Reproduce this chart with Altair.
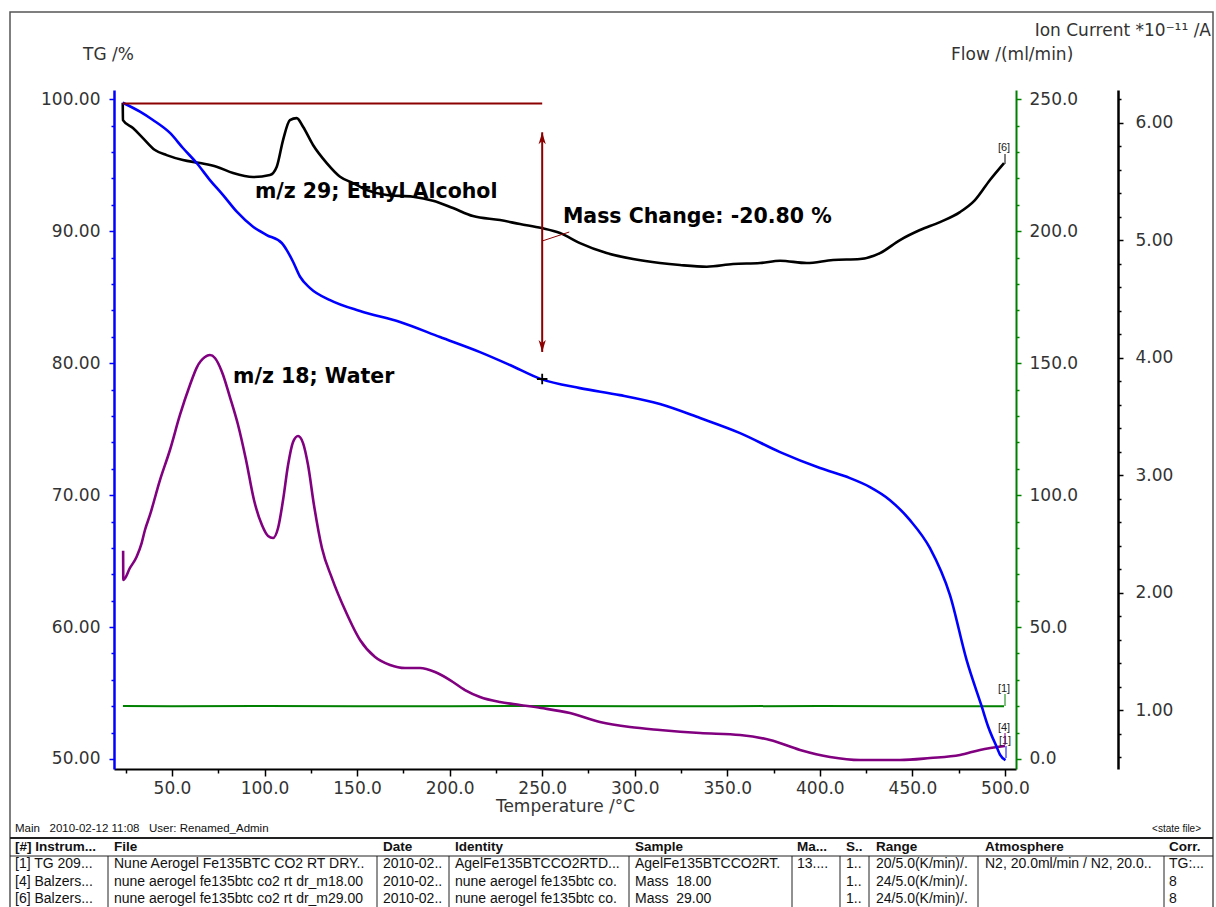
import altair as alt
import pandas as pd

FONT = "DejaVu Sans"
TXT = "#333333"
RED = "#8B0000"
NB = "\u00a0"

# ---------------- data ----------------
# TG (mass %) vs temperature
tg_temp = [23.4, 32.7, 39.7, 48.9, 55.9, 63.3, 70.5, 77.6, 85.0, 93.8, 101.2, 109.3, 112.0, 115.4, 119.2,
           124.6, 135.4, 151.6, 173.2, 194.8, 216.4, 232.6, 249.4, 270.4, 292.0, 313.6, 335.3, 356.9,
           378.5, 400.1, 416.3, 427.1, 437.9, 448.7, 459.5, 470.3, 479.3, 487.4, 491.0, 495.5, 497.3, 500.3]
tg_mass = [99.74, 99.06, 98.43, 97.45, 96.31, 95.17, 93.88, 92.74, 91.48, 90.34, 89.71, 89.11, 88.57, 87.69, 86.55,
           85.69, 84.78, 83.95, 83.12, 81.98, 80.84, 79.86, 78.79, 78.11, 77.58, 76.90, 75.84, 74.70,
           73.26, 72.05, 71.29, 70.61, 69.62, 68.10, 65.98, 62.42, 57.49, 54.00, 52.43, 50.92, 50.34, 49.91]

# Ion current m/z 29 (ethyl alcohol), *10^-11 A
m29_temp = [23.4, 23.5, 28.9, 34.3, 40.8, 47.1, 55.9, 65.1, 74.1, 83.0, 93.8, 102.9, 106.6, 110.0, 113.7,
            117.4, 120.8, 126.2, 133.6, 140.8, 147.8, 155.2, 166.0, 180.2, 191.0, 201.8, 212.6, 227.2,
            238.0, 249.7, 259.6, 270.4, 284.8, 299.1, 313.6, 324.4, 338.9, 353.1, 367.7, 378.5, 392.9,
            407.1, 421.7, 432.5, 443.3, 454.1, 464.9, 475.7, 483.8, 491.9, 499.5]
m29_ion = [6.168, 6.021, 5.953, 5.868, 5.766, 5.723, 5.681, 5.655, 5.624, 5.570, 5.536, 5.553, 5.624, 5.851,
           6.021, 6.038, 5.964, 5.809, 5.655, 5.539, 5.485, 5.426, 5.383, 5.369, 5.335, 5.272, 5.204, 5.170,
           5.136, 5.102, 5.060, 4.974, 4.889, 4.838, 4.804, 4.787, 4.773, 4.796, 4.804, 4.824, 4.804,
           4.830, 4.838, 4.889, 5.000, 5.085, 5.153, 5.238, 5.340, 5.511, 5.655]

# Ion current m/z 18 (water), *10^-11 A
m18_temp = [23.6, 23.7, 27.3, 30.9, 33.6, 35.4, 38.1, 43.5, 48.9, 54.3, 59.7, 63.5, 67.8, 70.5, 73.2, 77.0,
            81.3, 85.7, 90.0, 94.3, 98.6, 101.9, 104.6, 107.3, 110.0, 112.7, 115.4, 118.1, 120.8, 123.5,
            126.7, 131.0, 136.4, 143.5, 151.6, 159.7, 167.8, 175.9, 184.0, 192.1, 200.2, 208.3, 216.4,
            227.2, 238.0, 249.4, 265.0, 281.2, 297.4, 313.6, 335.3, 356.9, 373.1, 389.3, 405.5, 421.7,
            443.3, 459.5, 475.7, 486.5, 500.0]
m18_ion = [2.356, 2.106, 2.209, 2.305, 2.421, 2.532, 2.660, 2.957, 3.213, 3.511, 3.766, 3.919, 4.004, 4.021,
           3.996, 3.877, 3.664, 3.426, 3.128, 2.787, 2.574, 2.481, 2.464, 2.549, 2.787, 3.085, 3.281, 3.332,
           3.272, 3.085, 2.745, 2.379, 2.123, 1.851, 1.596, 1.451, 1.383, 1.357, 1.357, 1.323, 1.255,
           1.170, 1.111, 1.068, 1.043, 1.017, 0.974, 0.898, 0.855, 0.830, 0.804, 0.787, 0.745, 0.660,
           0.600, 0.574, 0.574, 0.591, 0.617, 0.660, 0.694]

# Purge gas flow, ml/min
flow_temp = [23.5, 50.0, 100.0, 150.0, 200.0, 250.0, 300.0, 350.0, 400.0, 450.0, 499.5]
flow_val = [20.1, 20.0, 20.1, 20.0, 20.0, 20.1, 20.0, 20.0, 20.1, 20.0, 20.0]

# Mass-change evaluation
step_start_temp = 23.4
step_temp = 250.0
step_level_start = 99.68
step_level_end = 78.8
arrow_top = 97.5
arrow_bottom = 80.85
mass_change_text = "Mass Change: -20.80 %"

annot_texts = ["m/z 29; Ethyl Alcohol", "m/z 18; Water", mass_change_text]
annot_temp = [94.8, 83.0, 261.2]
annot_tg = [92.97, 78.95, 91.08]

# Info table
info_left = f"Main{NB*3}2010-02-12 11:08{NB*3}User: Renamed_Admin"
info_right = "<state file>"
table_header = ["[#] Instrum...", "File", "Date", "Identity", "Sample", "Ma...", "S..", "Range",
                "Atmosphere", "Corr."]
table_rows = [
    ["[1] TG 209...", "Nune Aerogel Fe135BTC CO2 RT DRY..", "2010-02..", "AgelFe135BTCCO2RTD...",
     "AgelFe135BTCCO2RT.", "13....", "1..", "20/5.0(K/min)/.", "N2, 20.0ml/min / N2, 20.0..", "TG:..."],
    ["[4] Balzers...", "nune aerogel fe135btc co2 rt dr_m18.00", "2010-02..", "nune aerogel fe135btc co.",
     f"Mass{NB*2}18.00", "", "1..", "24/5.0(K/min)/.", "", "8"],
    ["[6] Balzers...", "nune aerogel fe135btc co2 rt dr_m29.00", "2010-02..", "nune aerogel fe135btc co.",
     f"Mass{NB*2}29.00", "", "1..", "24/5.0(K/min)/.", "", "8"],
]

# ---------------- layout (pixels) ----------------
L, TOP = 114, 90
W, H = 902, 679


def rx(a):
    return a - L


def ry(a):
    return a - TOP


col_x = [15, 114, 383, 455, 635, 797, 846, 876, 985, 1169]
sep_x = [108, 377, 449, 629, 792, 840, 869, 978, 1164]
header_y = 847
row_y = [864, 882, 899]

x_scale = alt.Scale(domain=[18.67, 505.97], nice=False, zero=False)
tg_scale = alt.Scale(domain=[49.242, 100.705], nice=False, zero=False)
flow_scale = alt.Scale(domain=[-3.79, 253.53], nice=False, zero=False)
ion_scale = alt.Scale(domain=[0.498, 6.277], nice=False, zero=False)

lab = dict(labelFont=FONT, labelFontSize=17, labelColor=TXT, labelOverlap=False, labelFlush=False, grid=False)

x_axis = alt.Axis(
    values=list(range(25, 501, 25)),
    labelExpr="datum.value % 50 === 0 ? format(datum.value, '.1f') : ''",
    tickSize={"condition": {"test": "datum.value % 50 === 0", "value": 7}, "value": 4},
    tickColor="black", tickWidth=1.5, domainColor="black", domainWidth=2,
    labelPadding=4, title="Temperature /°C", titleFont=FONT, titleFontSize=17,
    titleFontWeight="normal", titleColor=TXT, titlePadding=2, **lab)

tg_axis = alt.Axis(
    orient="left", values=list(range(50, 101, 2)),
    labelExpr="datum.value % 10 === 0 ? format(datum.value, '.2f') : ''",
    tickSize={"condition": {"test": "datum.value % 10 === 0", "value": 5}, "value": 3},
    tickColor="#0000FF", tickWidth=1.5, domainColor="#0000FF", domainWidth=2.5,
    labelPadding=9, title=None, **lab)

flow_axis = alt.Axis(
    orient="right", values=list(range(0, 251, 10)),
    labelExpr="datum.value % 50 === 0 ? format(datum.value, '.1f') : ''",
    tickSize={"condition": {"test": "datum.value % 50 === 0", "value": 5}, "value": 3},
    tickColor="#008000", tickWidth=1.5, domainColor="#008000", domainWidth=2,
    labelPadding=8, title=None, **lab)

ion_axis = alt.Axis(
    orient="right", offset=102, values=[round(0.6 + 0.2 * k, 1) for k in range(29)],
    labelExpr="abs(datum.value - round(datum.value)) < 0.01 ? format(datum.value, '.2f') : ''",
    tickSize={"condition": {"test": "abs(datum.value - round(datum.value)) < 0.01", "value": 5}, "value": 3},
    tickColor="black", tickWidth=1.5, domainColor="black", domainWidth=2.5,
    labelPadding=12, title=None, **lab)


def xq(field, axis=None):
    return alt.X(field, type="quantitative", scale=x_scale, axis=axis)


def yq(field, scale, axis=None):
    return alt.Y(field, type="quantitative", scale=scale, axis=axis)


def px(field):
    return alt.X(field, type="quantitative", scale=None, axis=None)


def py(field):
    return alt.Y(field, type="quantitative", scale=None, axis=None)


one = pd.DataFrame({"a": [0]})

# ---------------- layers ----------------
frame = alt.Chart(one).mark_rect(fill="white", fillOpacity=0, stroke="#555555", strokeWidth=1.5).encode(
    x=alt.value(rx(10)), x2=alt.value(rx(1213)), y=alt.value(ry(12)), y2=alt.value(ry(940)))

tg_df = pd.DataFrame({"T": tg_temp, "v": tg_mass, "i": list(range(len(tg_temp)))})
m29_df = pd.DataFrame({"T": m29_temp, "v": m29_ion, "i": list(range(len(m29_temp)))})
m18_df = pd.DataFrame({"T": m18_temp, "v": m18_ion, "i": list(range(len(m18_temp)))})
flow_df = pd.DataFrame({"T": flow_temp, "v": flow_val, "i": list(range(len(flow_temp)))})

green = alt.Chart(flow_df).mark_line(color="#008000", strokeWidth=2).encode(
    x=xq("T"), y=yq("v", flow_scale, flow_axis), order="i:Q")
purple = alt.Chart(m18_df).mark_line(color="#800080", strokeWidth=2.6, interpolate="monotone").encode(
    x=xq("T"), y=yq("v", ion_scale), order="i:Q")
black = alt.Chart(m29_df).mark_line(color="black", strokeWidth=2.6, interpolate="monotone").encode(
    x=xq("T"), y=yq("v", ion_scale, ion_axis), order="i:Q")
blue = alt.Chart(tg_df).mark_line(color="#0000FF", strokeWidth=2.6, interpolate="monotone").encode(
    x=xq("T", x_axis), y=yq("v", tg_scale, tg_axis), order="i:Q")

h_df = pd.DataFrame({"x1": [step_start_temp], "x2": [step_temp], "y": [step_level_start]})
red_h = alt.Chart(h_df).mark_rule(color=RED, strokeWidth=2).encode(
    x=xq("x1"), x2="x2:Q", y=yq("y", tg_scale))

v_df = pd.DataFrame({"x": [step_temp], "y1": [arrow_top], "y2": [arrow_bottom]})
red_v = alt.Chart(v_df).mark_rule(color=RED, strokeWidth=2).encode(
    x=xq("x"), y=yq("y1", tg_scale), y2="y2:Q")

up_df = pd.DataFrame({"x": [step_temp], "y": [arrow_top]})
head_up = alt.Chart(up_df).mark_point(shape="M0,0L-0.45,1.5L0,1.1L0.45,1.5Z", filled=True, size=256,
                                      color=RED, opacity=1).encode(x=xq("x"), y=yq("y", tg_scale))
dn_df = pd.DataFrame({"x": [step_temp], "y": [arrow_bottom]})
head_dn = alt.Chart(dn_df).mark_point(shape="M0,0L-0.45,-1.5L0,-1.1L0.45,-1.5Z", filled=True, size=256,
                                      color=RED, opacity=1).encode(x=xq("x"), y=yq("y", tg_scale))

lead_df = pd.DataFrame({"x1": [step_temp], "x2": [264.6], "y1": [89.26], "y2": [89.94]})
leader = alt.Chart(lead_df).mark_rule(color=RED, strokeWidth=1).encode(
    x=xq("x1"), x2="x2:Q", y=yq("y1", tg_scale), y2="y2:Q")

cross_df = pd.DataFrame({"x": [step_temp], "y": [step_level_end]})
cross = alt.Chart(cross_df).mark_point(shape="M-1,0L1,0M0,-1L0,1", filled=False, size=110,
                                       strokeWidth=1.8, color="black", opacity=1).encode(
    x=xq("x"), y=yq("y", tg_scale))

ann_df = pd.DataFrame({"x": annot_temp, "y": annot_tg, "t": annot_texts})
annots = alt.Chart(ann_df).mark_text(font=FONT, fontSize=20.5, fontWeight="bold", align="left",
                                     baseline="middle", color="black").encode(
    x=xq("x"), y=yq("y", tg_scale), text="t:N")

# axis titles (pixel placed)
titles_df = pd.DataFrame({"px": [rx(83), rx(951)], "py": [ry(55), ry(55)], "t": ["TG /%", "Flow /(ml/min)"]})
titles = alt.Chart(titles_df).mark_text(font=FONT, fontSize=17, align="left", baseline="middle",
                                        color=TXT).encode(x=px("px"), y=py("py"), text="t:N")
ion_title_df = pd.DataFrame({"px": [rx(1211)], "py": [ry(31)], "t": ["Ion Current *10⁻¹¹ /A"]})
ion_title = alt.Chart(ion_title_df).mark_text(font=FONT, fontSize=17, align="right", baseline="middle",
                                              color=TXT).encode(x=px("px"), y=py("py"), text="t:N")

# curve tags
tags_df = pd.DataFrame({"px": [rx(1004), rx(1004), rx(1004), rx(1005)],
                        "py": [ry(148), ry(689), ry(728), ry(741)],
                        "t": ["[6]", "[1]", "[4]", "[1]"]})
tags = alt.Chart(tags_df).mark_text(font="Liberation Sans", fontSize=11, align="center", baseline="middle",
                                    color="#222222").encode(x=px("px"), y=py("py"), text="t:N")
tagl_df = pd.DataFrame({"x1": [rx(1005), rx(1005), rx(1005), rx(1006)],
                        "y1": [ry(154), ry(694), ry(733), ry(746)],
                        "y2": [ry(164), ry(706), ry(745), ry(758)],
                        "c": ["k", "g", "p", "b"]})
tag_lines = alt.Chart(tagl_df).mark_rule(strokeWidth=1).encode(
    x=px("x1"), y=py("y1"), y2="y2:Q",
    color=alt.Color("c:N", scale=alt.Scale(domain=["k", "g", "p", "b"],
                                           range=["black", "#008000", "#800080", "#0000FF"]), legend=None))

# info line
info_df = pd.DataFrame({"px": [rx(15)], "py": [ry(829)], "t": [info_left]})
info = alt.Chart(info_df).mark_text(font="Liberation Sans", fontSize=11.5, align="left", baseline="middle",
                                    color="#111111").encode(x=px("px"), y=py("py"), text="t:N")
state_df = pd.DataFrame({"px": [rx(1201)], "py": [ry(829)], "t": [info_right]})
state = alt.Chart(state_df).mark_text(font="Liberation Sans", fontSize=10, align="right", baseline="middle",
                                      color="#111111").encode(x=px("px"), y=py("py"), text="t:N")

# table
head_df = pd.DataFrame({"px": [rx(c) for c in col_x], "py": [ry(header_y)] * len(col_x), "t": table_header})
head = alt.Chart(head_df).mark_text(font="Liberation Sans", fontSize=13.5, fontWeight="bold", align="left",
                                    baseline="middle", color="#111111").encode(x=px("px"), y=py("py"), text="t:N")
cells = []
for r, row in enumerate(table_rows):
    for c, val in enumerate(row):
        if val:
            cells.append({"px": rx(col_x[c]), "py": ry(row_y[r]), "t": val})
cells_df = pd.DataFrame(cells)
body = alt.Chart(cells_df).mark_text(font="Liberation Sans", fontSize=14, align="left", baseline="middle",
                                     color="#111111").encode(x=px("px"), y=py("py"), text="t:N")

thick_df = pd.DataFrame({"x1": [rx(10)], "x2": [rx(1213)], "y1": [ry(838)], "y2": [ry(838)]})
thick = alt.Chart(thick_df).mark_rule(color="#222222", strokeWidth=2).encode(
    x=px("x1"), x2="x2:Q", y=py("y1"), y2="y2:Q")
thin_rows = [{"x1": rx(10), "x2": rx(1213), "y1": ry(856), "y2": ry(856)}]
for s in sep_x:
    thin_rows.append({"x1": rx(s), "x2": rx(s), "y1": ry(856), "y2": ry(920)})
thin_df = pd.DataFrame(thin_rows)
thin = alt.Chart(thin_df).mark_rule(color="#222222", strokeWidth=1).encode(
    x=px("x1"), x2="x2:Q", y=py("y1"), y2="y2:Q")

chart = alt.layer(
    frame, green, purple, black, blue, red_h, red_v, head_up, head_dn, leader, cross, annots,
    titles, ion_title, tags, tag_lines, info, state, thick, thin, head, body
).resolve_scale(x="independent", y="independent").properties(
    width=W, height=H,
    padding={"left": L, "top": TOP, "right": 1216 - L - W, "bottom": 907 - TOP - H},
    autosize=alt.AutoSizeParams(type="none"),
    background="white",
).configure_view(strokeOpacity=0)

chart.save("out.html", embed_options={"renderer": "svg", "actions": False})
